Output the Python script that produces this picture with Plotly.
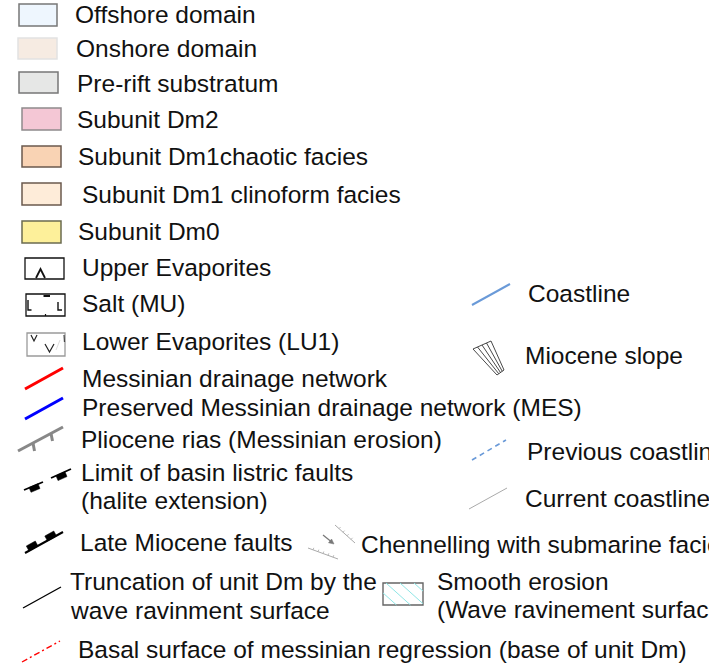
import plotly.graph_objects as go

# ---------------- data (legend content) ----------------
fill_labels = ["Offshore domain", "Onshore domain", "Pre-rift substratum", "Subunit Dm2",
               "Subunit Dm1chaotic facies", "Subunit Dm1 clinoform facies", "Subunit Dm0"]
fill_colors = ["#eef6fe", "#f6ebe2", "#e6e7e6", "#f4c7d5", "#f9d3b4", "#feecd9", "#fdf09a"]
fill_borders = ["#777777", "#e2e2e2", "#777777", "#8f8a8c", "#6b5a4e", "#6b5a4e", "#6b6b50"]

evap_labels = ["Upper Evaporites", "Salt (MU)", "Lower Evaporites (LU1)"]

line_labels = ["Messinian drainage network", "Preserved Messinian drainage network (MES)",
               "Pliocene rias (Messinian erosion)"]
line_colors = ["#ff0000", "#0000ff", "#888888"]

fault_labels = ["Limit of basin listric faults", "(halite extension)", "Late Miocene faults"]
trunc_labels = ["Truncation of unit Dm by the", "wave ravinment surface"]
basal_label = "Basal surface of messinian regression (base of unit Dm)"

right_labels = ["Coastline", "Miocene slope", "Previous coastline", "Current coastline"]
right_colors = ["#6a9ad8", "#333333", "#6a9ad8", "#aaaaaa"]
chan_label = "Chennelling with submarine facies"
smooth_labels = ["Smooth erosion", "(Wave ravinement surface)"]

# ---------------- layout geometry ----------------
W, H = 709, 664
FONT = dict(family="Liberation Sans, Arial, sans-serif", size=24.5, color="#111111")
DX = -1.5  # annotation horizontal padding compensation

fill_boxes = [(19, 4, 57, 26), (18, 38, 57, 59), (19, 72, 58, 93), (22, 108, 61, 130),
              (22, 146, 61, 167), (22, 183, 61, 205), (22, 221, 61, 243)]
fill_text = [(75, 14), (76, 48), (77, 83), (77, 119), (78, 156), (82, 194), (78, 231)]
evap_text = [(82, 267), (82, 303), (82, 341)]
line_text = [(82, 378), (82, 407), (81, 439)]
fault_text = [(81, 472), (81, 500), (80, 542)]
trunc_text = [(70, 581), (70, 610)]
basal_text = (78, 649)
right_text = [(528, 293), (525, 355), (527, 451), (525, 498)]
chan_text = (361, 544)
smooth_text = [(437, 581), (437, 609)]

fig = go.Figure()
shapes = []
annos = []


def text(s, x, y):
    annos.append(dict(x=x + DX, y=y, xref="x", yref="y", text=s, showarrow=False,
                      xanchor="left", yanchor="middle", font=FONT, borderpad=0))


def seg(x0, y0, x1, y1, color, width, dash="solid"):
    shapes.append(dict(type="line", xref="x", yref="y", x0=x0, y0=y0, x1=x1, y1=y1,
                       line=dict(color=color, width=width, dash=dash)))


def poly(pts, fill, color="rgba(0,0,0,0)", width=0, closed=True):
    p = "M " + " L ".join(f"{x},{y}" for x, y in pts) + (" Z" if closed else "")
    shapes.append(dict(type="path", xref="x", yref="y", path=p,
                       fillcolor=fill if closed else None,
                       line=dict(color=color, width=width)))


def rect(x0, y0, x1, y1, fill, color, width):
    shapes.append(dict(type="rect", xref="x", yref="y", x0=x0, y0=y0, x1=x1, y1=y1,
                       fillcolor=fill, line=dict(color=color, width=width)))


# filled boxes
for lab, fc, bc, b, t in zip(fill_labels, fill_colors, fill_borders, fill_boxes, fill_text):
    rect(*b, fc, bc, 1.5)
    text(lab, *t)

# evaporite symbols
rect(25, 258, 64, 279, "white", "#111111", 1.3)
poly([(36, 278), (40.5, 269), (45, 278)], None, "#111111", 1.8, closed=False)
rect(26, 294, 65, 316, "white", "#111111", 1.3)
poly([(28, 300), (28, 310), (31.5, 310)], None, "#111111", 1.4, closed=False)
seg(43.5, 296, 50, 296, "#111111", 2)
poly([(58, 302), (58, 310), (62, 310)], None, "#111111", 1.4, closed=False)
seg(45.5, 314, 45.5, 316, "#111111", 1.2)
rect(27, 333, 65, 356, "white", "#9a9a9a", 1.3)
poly([(31, 335), (34, 341), (37, 335)], None, "#222222", 1.2, closed=False)
poly([(45, 344), (49.5, 352), (54, 344)], None, "#222222", 1.2, closed=False)
poly([(56, 350), (60, 340)], None, "#dddddd", 1, closed=False)
seg(64, 335, 64.5, 342, "#444444", 1.2)
for lab, t in zip(evap_labels, evap_text):
    text(lab, *t)

# drainage lines
seg(25, 389, 63, 368, line_colors[0], 3)
seg(25, 419, 63, 398, line_colors[1], 3)
# Pliocene rias with ticks
seg(18, 451, 63, 427, line_colors[2], 3)
seg(33, 443, 34.5, 451, line_colors[2], 3)
seg(51, 433.5, 52.5, 441, line_colors[2], 3)
for lab, t in zip(line_labels, line_text):
    text(lab, *t)

# limit of basin listric faults (dashed with blobs)
seg(24, 490, 43, 482, "#000000", 1.8)
seg(51, 478, 71, 469, "#000000", 1.8)
poly([(29, 487.5), (38, 483.7), (40, 488.5), (31, 492.3)], "#000000", "#000000", 0.5)
poly([(56, 475.8), (65, 471.8), (67, 476.6), (58, 480.6)], "#000000", "#000000", 0.5)
# late Miocene faults
seg(25, 553, 63, 532, "#000000", 2)
poly([(29, 551), (38, 546), (35.3, 541), (26.3, 546)], "#000000", "#000000", 0.5)
poly([(47.5, 541), (56.5, 536), (53.8, 531), (44.8, 536)], "#000000", "#000000", 0.5)
for lab, t in zip(fault_labels, fault_text):
    text(lab, *t)

# truncation
seg(23, 608, 61, 587, "#000000", 1.4)
for lab, t in zip(trunc_labels, trunc_text):
    text(lab, *t)

# basal surface
seg(22, 662, 60, 641, "#ff0000", 1.4, "6px,3px,2px,3px")
text(basal_label, *basal_text)

# right column
seg(472, 305, 510, 284, right_colors[0], 2)
# Miocene slope fan
top = [(473, 349), (491, 341)]
bot = [(497, 375), (504, 370)]
poly([top[0], top[1], bot[1], bot[0]], "rgba(0,0,0,0)", right_colors[1], 0.9)
for i in range(1, 4):
    f = i / 4
    tx = top[0][0] + (top[1][0] - top[0][0]) * f
    ty = top[0][1] + (top[1][1] - top[0][1]) * f
    bx = bot[0][0] + (bot[1][0] - bot[0][0]) * f
    by = bot[0][1] + (bot[1][1] - bot[0][1]) * f
    seg(tx, ty, bx, by, right_colors[1], 0.9)
seg(472, 460, 506, 440, right_colors[2], 1.6, "5px,4px")
seg(469, 509, 507, 488, right_colors[3], 1)
for lab, t in zip(right_labels, right_text):
    text(lab, *t)

# channelling symbol
seg(335, 525, 355, 543, "#aaaaaa", 1)
seg(308, 548, 338, 559, "#aaaaaa", 1)
for k in range(1, 6):
    x = 308 + 30 * k / 6
    y = 548 + 11 * k / 6
    seg(x, y, x + 0.8, y - 2, "#aaaaaa", 0.8)
for k in range(1, 5):
    x = 335 + 20 * k / 5
    y = 525 + 18 * k / 5
    seg(x, y, x + 1.6, y - 1.6, "#aaaaaa", 0.8)
seg(323, 535, 331, 541.5, "#777777", 1.2)
poly([(334, 544), (328.5, 542.8), (331.6, 539)], "#777777", "#777777", 0.5)
text(chan_label, *chan_text)

# smooth erosion box with cyan hatching
bx0, by0, bx1, by1 = 383, 583, 423, 605
rect(bx0, by0, bx1, by1, "white", "#666666", 1.4)
slope = 0.9
for c in [372, 386, 400, 414]:
    xs = max(bx0, c)
    xe = min(bx1, c + (by1 - by0) / slope)
    if xe > xs:
        seg(xs, by0 + slope * (xs - c), xe, by0 + slope * (xe - c), "#8fe6e6", 1)
for lab, t in zip(smooth_labels, smooth_text):
    text(lab, *t)

fig.update_layout(
    width=W, height=H, margin=dict(l=0, r=0, t=0, b=0),
    paper_bgcolor="white", plot_bgcolor="white", showlegend=False,
    xaxis=dict(range=[0, W], visible=False, fixedrange=True),
    yaxis=dict(range=[H, 0], visible=False, fixedrange=True),
    shapes=shapes, annotations=annos,
)
fig.write_html("out.html", config={"displayModeBar": False},
               post_script="document.body.style.margin='0';document.body.style.overflow='hidden';")
